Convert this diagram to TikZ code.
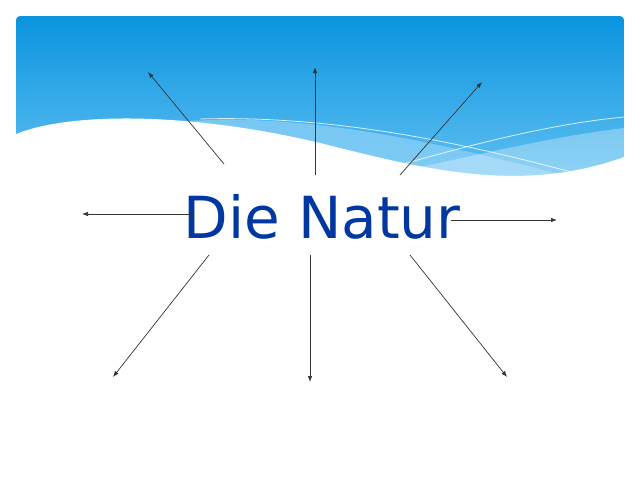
\documentclass[tikz,border=0pt]{standalone}
\usepackage{fontspec}
\setmainfont{DejaVu Sans}
\usetikzlibrary{arrows.meta}
\definecolor{skytop}{HTML}{0B94DF}
\definecolor{skybottom}{HTML}{62C1F2}
\definecolor{bandblue}{HTML}{8ED2F7}
\definecolor{titleblue}{HTML}{0037A0}
\tikzset{ray/.style={draw=black!80,line width=0.7pt,-{Latex[length=6pt,width=4.5pt]}}}
\begin{document}
\begin{tikzpicture}[x=1pt,y=-1pt]
\useasboundingbox (0,0) rectangle (640,480);

\begin{scope}
\clip[rounded corners=4pt] (16,200) -- (16,16) -- (624,16) -- (624,200) -- cycle;
\shade[top color=skytop,bottom color=skybottom] (16,16) rectangle (624,185);
\fill[bandblue,opacity=0.7] (190,121) .. controls (300,114) and (420,136) .. (600,185) -- (190,185) -- cycle;
\fill[white,opacity=0.3] (624,128) .. controls (540,138) and (460,160) .. (380,175) -- (624,185) -- cycle;
\draw[white,line width=0.8pt,opacity=0.8] (200,119) .. controls (330,115) and (460,142) .. (575,173);
\draw[white,line width=0.8pt,opacity=0.8] (400,165) .. controls (470,145) and (550,124) .. (624,117);
\fill[white] (16,134) .. controls (70,112) and (190,112) .. (320,143) .. controls (420,168) and (520,195) .. (624,157) -- (624,200) -- (16,200) -- cycle;
\end{scope}

\coordinate (nw0) at (224,164);
\coordinate (nw) at (148,72);
\coordinate (n0) at (315,175);
\coordinate (n) at (315,67);
\coordinate (ne0) at (400,175);
\coordinate (ne) at (482,82);
\coordinate (w0) at (194,214);
\coordinate (w) at (82,214);
\coordinate (e0) at (451,220);
\coordinate (e) at (557,220);
\coordinate (sw0) at (209,255);
\coordinate (sw) at (113,377);
\coordinate (s0) at (310,255);
\coordinate (s) at (310,382);
\coordinate (se0) at (410,255);
\coordinate (se) at (507,377);

\node[text=titleblue,font=\fontsize{58}{58}\selectfont,anchor=base,inner sep=0pt] (natur) at (322,238) {Die Natur};

\draw[ray] (nw0) -- (nw);
\draw[ray] (n0) -- (n);
\draw[ray] (ne0) -- (ne);
\draw[ray] (w0) -- (w);
\draw[ray] (e0) -- (e);
\draw[ray] (sw0) -- (sw);
\draw[ray] (s0) -- (s);
\draw[ray] (se0) -- (se);
\end{tikzpicture}
\end{document}
